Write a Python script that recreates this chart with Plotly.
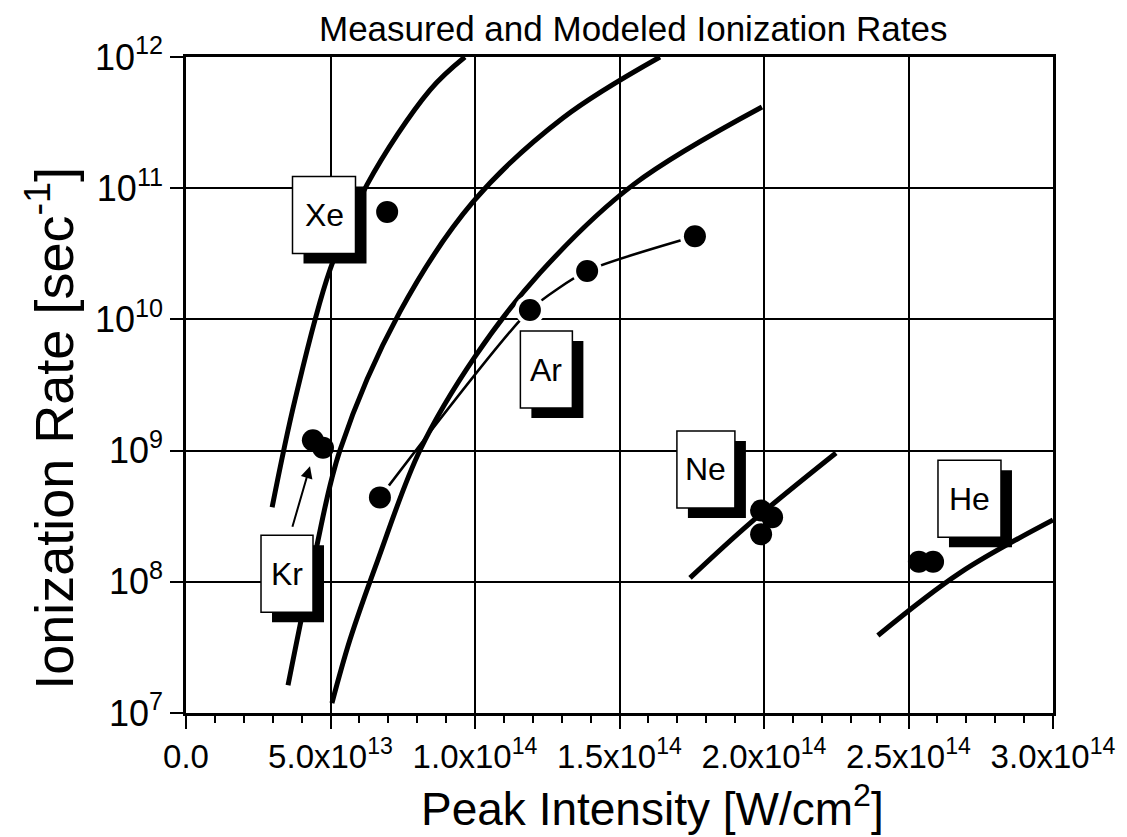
import numpy as np
import plotly.graph_objects as go

# ---------------- data ----------------
# modeled curves
xe_model_x = [2.98e13, 3.77e13, 4.98e13, 6.26e13, 8.44e13, 9.65e13]
xe_model_y = [3.7e8, 2.43e9, 2.38e10, 1.06e11, 5.6e11, 1.0e12]

kr_model_x = [3.53e13, 4.46e13, 5.33e13, 7.40e13, 9.93e13, 1.304e14, 1.64e14]
kr_model_y = [1.63e7, 1.6e8, 1.01e9, 1.14e10, 7.85e10, 3.43e11, 1.0e12]

ar_model_x = [5.05e13, 5.67e13, 6.64e13, 8.10e13, 1.0e14, 1.225e14, 1.547e14, 1.993e14]
ar_model_y = [1.19e7, 3.6e7, 1.47e8, 1.01e9, 5.2e9, 2.26e10, 1.06e11, 4.16e11]

ne_model_x = [1.744e14, 1.952e14, 2.249e14]
ne_model_y = [1.07e8, 2.8e8, 9.6e8]

he_model_x = [2.394e14, 2.678e14, 3.0e14]
he_model_y = [3.9e7, 1.17e8, 2.96e8]

# measured points
xe_meas_x = [6.96e13]
xe_meas_y = [6.6e10]
ar_meas_x = [6.71e13, 1.19e14, 1.388e14, 1.761e14]
ar_meas_y = [4.4e8, 1.18e10, 2.34e10, 4.3e10]
kr_meas_x = [4.39e13, 4.74e13]
kr_meas_y = [1.2e9, 1.05e9]
ne_meas_x = [1.99e14, 2.028e14, 1.99e14]
ne_meas_y = [3.5e8, 3.1e8, 2.3e8]
he_meas_x = [2.536e14, 2.585e14]
he_meas_y = [1.42e8, 1.42e8]

# gas labels (centre of the label box)
label_names = ["Xe", "Ar", "Ne", "He", "Kr"]
label_x = [4.775e13, 1.247e14, 1.799e14, 2.711e14, 3.495e13]
label_y = [6.25e10, 4.15e9, 7.18e8, 4.3e8, 1.15e8]
label_w = [63, 52, 58, 63, 52]   # box width in px

# Kr arrow tip
kr_arrow_x = 4.29e13
kr_arrow_y = 7.6e8

# axis ticks
x_tickvals = [0, 5e13, 1e14, 1.5e14, 2e14, 2.5e14, 3e14]
x_ticktext = ["0.0", "5.0x10<sup>13</sup>", "1.0x10<sup>14</sup>", "1.5x10<sup>14</sup>",
              "2.0x10<sup>14</sup>", "2.5x10<sup>14</sup>", "3.0x10<sup>14</sup>"]
y_tickvals = [1e7, 1e8, 1e9, 1e10, 1e11, 1e12]
y_ticktext = ["10<sup>7</sup>", "10<sup>8</sup>", "10<sup>9</sup>", "10<sup>10</sup>",
              "10<sup>11</sup>", "10<sup>12</sup>"]
y_minor_vals = [m * 10.0 ** e for e in range(7, 12) for m in range(2, 10)]

FONT = "Arial, Liberation Sans, Helvetica, sans-serif"

# layout geometry
W, H = 1127, 837
ML, MR, MT, MB = 186, 74, 57, 124
X_RANGE = (0, 3e14)
Y_RANGE = (7, 12)
PLOT_W = W - ML - MR
px_per_x = PLOT_W / (X_RANGE[1] - X_RANGE[0])
px_per_dec = (H - MT - MB) / (Y_RANGE[1] - Y_RANGE[0])


def box_coords(cx, cy, w, h, dx=0, dy=0):
    """rectangle of w x h pixels centred at data (cx, cy), shifted dx right / dy down in px"""
    x0 = cx + (dx - w / 2) / px_per_x
    x1 = cx + (dx + w / 2) / px_per_x
    y0 = cy * 10 ** ((-dy - h / 2) / px_per_dec)
    y1 = cy * 10 ** ((-dy + h / 2) / px_per_dec)
    return x0, x1, y0, y1


fig = go.Figure()

curve_style = dict(color="black", width=5)
for cx, cy in [(xe_model_x, xe_model_y), (kr_model_x, kr_model_y), (ar_model_x, ar_model_y),
               (ne_model_x, ne_model_y), (he_model_x, he_model_y)]:
    fig.add_trace(go.Scatter(x=cx, y=cy, mode="lines", line=dict(shape="spline", smoothing=1.0, **curve_style),
                             showlegend=False, hoverinfo="skip"))

# Ar measured connecting line with gaps around markers
fig.add_trace(go.Scatter(x=ar_meas_x, y=ar_meas_y, mode="lines",
                         line=dict(color="black", width=2.5, shape="spline", smoothing=0.6),
                         showlegend=False, hoverinfo="skip"))
fig.add_trace(go.Scatter(x=ar_meas_x, y=ar_meas_y, mode="markers",
                         marker=dict(color="white", size=30, line=dict(width=0)),
                         showlegend=False, hoverinfo="skip"))

for mx, my in [(xe_meas_x, xe_meas_y), (ar_meas_x, ar_meas_y), (kr_meas_x, kr_meas_y),
               (ne_meas_x, ne_meas_y), (he_meas_x, he_meas_y)]:
    fig.add_trace(go.Scatter(x=mx, y=my, mode="markers",
                             marker=dict(color="black", size=22, line=dict(width=0)),
                             showlegend=False, hoverinfo="skip"))

# minor tick marks of the log axis, drawn as short horizontal dashes just left of the axis line
tick_x = X_RANGE[0] - 4.5 / px_per_x
fig.add_trace(go.Scatter(x=[tick_x] * len(y_minor_vals), y=y_minor_vals, mode="markers",
                         marker=dict(symbol="line-ew", size=8, color="black",
                                     line=dict(color="black", width=2)),
                         cliponaxis=False, showlegend=False, hoverinfo="skip"))

shapes = []
annotations = []

BOX_H = 77
for name, lx, ly, w in zip(label_names, label_x, label_y, label_w):
    sx0, sx1, sy0, sy1 = box_coords(lx, ly, w, BOX_H, dx=11, dy=10)
    shapes.append(dict(type="rect", xref="x", yref="y", x0=sx0, x1=sx1, y0=sy0, y1=sy1,
                       fillcolor="black", line=dict(width=0), layer="above"))
    bx0, bx1, by0, by1 = box_coords(lx, ly, w, BOX_H)
    shapes.append(dict(type="rect", xref="x", yref="y", x0=bx0, x1=bx1, y0=by0, y1=by1,
                       fillcolor="white", line=dict(color="black", width=1.5), layer="above"))
    annotations.append(dict(x=lx, y=np.log10(ly), xref="x", yref="y", text=name, showarrow=False,
                            font=dict(family=FONT, size=32, color="black")))

# Kr arrow
annotations.append(dict(x=kr_arrow_x, y=np.log10(kr_arrow_y), xref="x", yref="y", text="",
                        showarrow=True, ax=-18, ay=62, arrowhead=2, arrowsize=1.2, arrowwidth=2,
                        arrowcolor="black"))

# title and axis titles
annotations.append(dict(x=0.5156, y=1.044, xref="paper", yref="paper", text="Measured and Modeled Ionization Rates",
                        showarrow=False, xanchor="center", yanchor="middle",
                        font=dict(family=FONT, size=35, color="black")))
annotations.append(dict(x=0.5375, y=-0.142, xref="paper", yref="paper", text="Peak Intensity [W/cm<sup>2</sup>]",
                        showarrow=False, xanchor="center", yanchor="middle",
                        font=dict(family=FONT, size=46, color="black")))
annotations.append(dict(x=-0.157, y=0.4345, xref="paper", yref="paper", text="Ionization Rate [sec<sup>-1</sup>]",
                        showarrow=False, xanchor="center", yanchor="middle", textangle=-90,
                        font=dict(family=FONT, size=54, color="black")))

fig.update_layout(
    width=W, height=H,
    margin=dict(l=ML, r=MR, t=MT, b=MB),
    paper_bgcolor="white", plot_bgcolor="white",
    font=dict(family=FONT, color="black"),
    shapes=shapes, annotations=annotations,
    showlegend=False,
)
fig.update_xaxes(
    range=list(X_RANGE), tickvals=x_tickvals, ticktext=x_ticktext,
    tickfont=dict(family=FONT, size=33, color="black"),
    showgrid=True, gridcolor="black", gridwidth=1.5,
    showline=True, linecolor="black", linewidth=2.5, mirror=True,
    ticks="outside", ticklen=13, tickwidth=2, tickcolor="black",
    minor=dict(dtick=1e13, tick0=0, ticks="outside", ticklen=7, tickwidth=2, tickcolor="black", showgrid=False),
    zeroline=False,
)
fig.update_yaxes(
    type="log", range=list(Y_RANGE), tickvals=y_tickvals, ticktext=y_ticktext,
    tickfont=dict(family=FONT, size=36, color="black"),
    showgrid=True, gridcolor="black", gridwidth=1.5,
    showline=True, linecolor="black", linewidth=2.5, mirror=True,
    ticks="outside", ticklen=13, tickwidth=2, tickcolor="black",
    zeroline=False,
)

fig.write_html("out.html")
